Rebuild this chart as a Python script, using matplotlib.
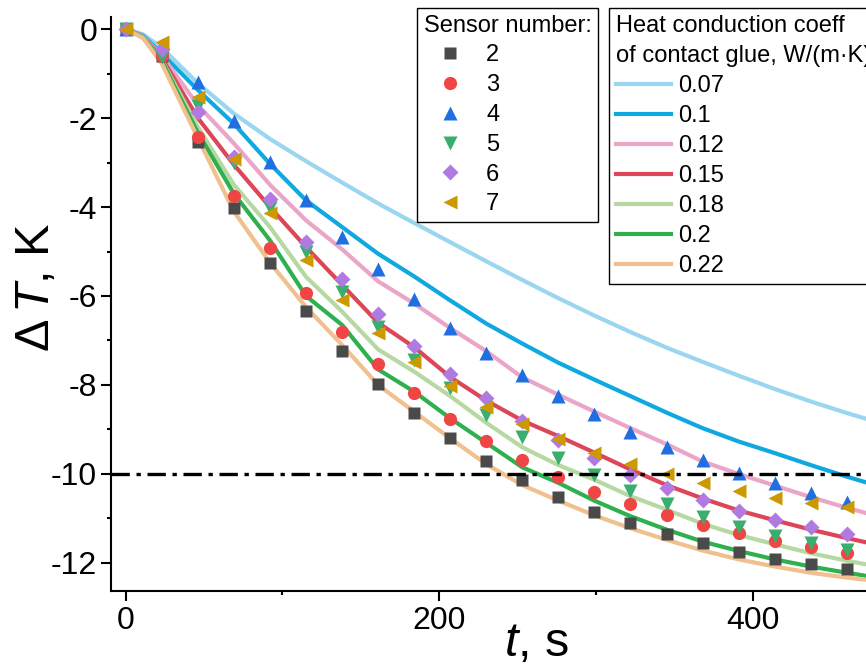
import matplotlib
matplotlib.use("Agg")
import matplotlib.pyplot as plt
from matplotlib.ticker import MultipleLocator

plt.rcParams['font.family'] = ['Liberation Sans', 'DejaVu Sans']
plt.rcParams['mathtext.fontset'] = 'custom'
plt.rcParams['mathtext.it'] = 'Liberation Sans:italic'
plt.rcParams['mathtext.rm'] = 'Liberation Sans'
plt.rcParams['axes.unicode_minus'] = False

# measured points, time in s
t_meas = [0, 23, 46, 69, 92, 115, 138, 161, 184, 207, 230, 253, 276, 299, 322, 345, 368, 391, 414, 437, 460]
sensor_names = ['2', '3', '4', '5', '6', '7']
s2 = [0, -0.6, -2.55, -4.02, -5.26, -6.34, -7.24, -7.98, -8.63, -9.19, -9.71, -10.13, -10.52, -10.85, -11.1, -11.35, -11.55, -11.75, -11.9, -12.02, -12.13]
s3 = [0, -0.6, -2.43, -3.75, -4.92, -5.93, -6.81, -7.53, -8.18, -8.76, -9.26, -9.69, -10.06, -10.4, -10.67, -10.92, -11.15, -11.33, -11.5, -11.65, -11.78]
s4 = [0, -0.35, -1.19, -2.07, -2.99, -3.84, -4.67, -5.39, -6.07, -6.72, -7.28, -7.78, -8.25, -8.65, -9.05, -9.39, -9.69, -9.97, -10.2, -10.43, -10.63]
s5 = [0, -0.62, -1.72, -3.0, -4.02, -5.0, -5.9, -6.7, -7.44, -8.07, -8.67, -9.17, -9.64, -10.02, -10.38, -10.67, -10.96, -11.19, -11.39, -11.55, -11.71]
s6 = [0, -0.45, -1.87, -2.88, -3.82, -4.79, -5.62, -6.4, -7.12, -7.75, -8.29, -8.8, -9.24, -9.64, -10.02, -10.31, -10.58, -10.83, -11.03, -11.19, -11.35]
s7 = [0, -0.3, -1.53, -2.92, -4.14, -5.2, -6.09, -6.83, -7.48, -8.02, -8.5, -8.88, -9.21, -9.53, -9.78, -10.0, -10.2, -10.38, -10.54, -10.65, -10.74]

# simulated curves for the glue heat conduction coefficient
t_fit = [0, 11, 23, 46, 69, 92, 115, 138, 161, 184, 207, 230, 253, 276, 299, 322, 345, 368, 391, 414, 437, 460, 483]
coeff_names = ['0.07', '0.1', '0.12', '0.15', '0.18', '0.2', '0.22']
k007 = [0, -0.12, -0.42, -1.22, -1.9, -2.47, -2.97, -3.45, -3.92, -4.36, -4.79, -5.22, -5.64, -6.05, -6.44, -6.81, -7.16, -7.48, -7.79, -8.09, -8.37, -8.63, -8.87]
k01 = [0, -0.15, -0.55, -1.37, -2.13, -3.03, -3.85, -4.45, -5.05, -5.56, -6.1, -6.62, -7.07, -7.5, -7.88, -8.25, -8.62, -8.97, -9.27, -9.53, -9.8, -10.06, -10.3]
k012 = [0, -0.16, -0.6, -1.71, -2.57, -3.5, -4.3, -4.95, -5.67, -6.17, -6.72, -7.24, -7.83, -8.22, -8.6, -8.97, -9.33, -9.72, -10.0, -10.26, -10.52, -10.76, -10.98]
k015 = [0, -0.17, -0.65, -2.0, -3.05, -4.0, -4.9, -5.75, -6.6, -7.15, -7.82, -8.35, -8.8, -9.15, -9.52, -9.9, -10.25, -10.55, -10.82, -11.04, -11.25, -11.44, -11.62]
k018 = [0, -0.18, -0.7, -2.2, -3.5, -4.45, -5.57, -6.35, -7.2, -7.7, -8.25, -8.85, -9.4, -9.8, -10.13, -10.5, -10.8, -11.12, -11.37, -11.58, -11.78, -11.95, -12.1]
k02 = [0, -0.19, -0.72, -2.33, -3.7, -4.75, -6.0, -6.65, -7.65, -8.15, -8.75, -9.3, -9.85, -10.2, -10.6, -10.95, -11.25, -11.52, -11.73, -11.92, -12.08, -12.22, -12.35]
k022 = [0, -0.2, -0.78, -2.45, -4.1, -5.25, -6.25, -7.1, -8.0, -8.6, -9.2, -9.78, -10.25, -10.6, -10.93, -11.22, -11.48, -11.72, -11.92, -12.08, -12.22, -12.33, -12.42]
threshold = -10

sensors = [s2, s3, s4, s5, s6, s7]
curves = [k007, k01, k012, k015, k018, k02, k022]

sensorMarkers = ['s', 'o', '^', 'v', 'D', '<']
sensorSizes = [8.5, 9.5, 10.5, 10.5, 7.8, 10.5]
sensorColors = ['#4a4a4a', '#f04545', '#1f6fe0', '#3aae6c', '#b07ae0', '#cc9900']
curveColors = ['#9ad6f0', '#10a8e0', '#eaa5c8', '#dc4658', '#b6d9a3', '#2fb04f', '#f0c08e']

fig = plt.figure(figsize=(8.66, 6.65), dpi=100)
ax = fig.add_axes([0.1282, 0.1113, 0.8858, 0.8631])

curveLines = []
for i in range(len(curves)):
    ln, = ax.plot(t_fit, curves[i], color=curveColors[i], lw=3, zorder=2, label=coeff_names[i])
    curveLines.append(ln)

sensorLines = []
for i in range(len(sensors)):
    ln, = ax.plot(t_meas, sensors[i], ls='none', marker=sensorMarkers[i], ms=sensorSizes[i],
                  color=sensorColors[i], mec='none', zorder=3 + i, label=sensor_names[i])
    sensorLines.append(ln)

ax.axhline(threshold, color='black', lw=2.4, ls=(0, (5.5, 2, 1.3, 2)), zorder=10)

ax.set_xlim(-9.4, 480)
ax.set_ylim(-12.63, 0.27)
ax.xaxis.set_major_locator(MultipleLocator(200))
ax.xaxis.set_minor_locator(MultipleLocator(100))
ax.yaxis.set_major_locator(MultipleLocator(2))
ax.yaxis.set_minor_locator(MultipleLocator(1))
ax.tick_params(which='major', length=7, width=1.5, labelsize=23)
ax.tick_params(which='minor', length=3, width=1.5)
ax.tick_params(axis='x', which='major', pad=4)
ax.tick_params(axis='y', which='major', pad=3)
ax.spines['top'].set_visible(False)
for side in ['left', 'bottom', 'right']:
    ax.spines[side].set_linewidth(1.5)

ax.set_xlabel(r'$t$, s', fontsize=35)
ax.set_ylabel(r'Δ$\,T$, K', fontsize=35)
ax.xaxis.set_label_coords(0.555, -0.052)
ax.yaxis.set_label_coords(-0.068, 0.53)

leg1 = ax.legend(handles=sensorLines, title='Sensor number:', loc='upper left',
                 bbox_to_anchor=(417 / 866, 1 - 8 / 665), bbox_transform=fig.transFigure,
                 fontsize=17, title_fontsize=17, frameon=True, fancybox=False, borderaxespad=0,
                 borderpad=0.28, handlelength=2.2, handletextpad=0.45, labelspacing=0.33,
                 alignment='left', framealpha=1)
leg1.get_frame().set_edgecolor('black')
leg1.get_frame().set_linewidth(1.0)
ax.add_artist(leg1)

leg2 = ax.legend(handles=curveLines, title='Heat conduction coeff\nof contact glue, W/(m·K)',
                 loc='upper left', bbox_to_anchor=(609 / 866, 1 - 8 / 665),
                 bbox_transform=fig.transFigure, fontsize=17, title_fontsize=17, frameon=True,
                 fancybox=False, borderaxespad=0, borderpad=0.28, handlelength=2.35,
                 handletextpad=0.3, labelspacing=0.34, alignment='left', framealpha=1)
leg2.get_frame().set_edgecolor('black')
leg2.get_frame().set_linewidth(1.0)
leg2.get_title().set_linespacing(1.5)
for ln in leg2.get_lines():
    ln.set_linewidth(3)

fig.savefig('out.png', dpi=100)
